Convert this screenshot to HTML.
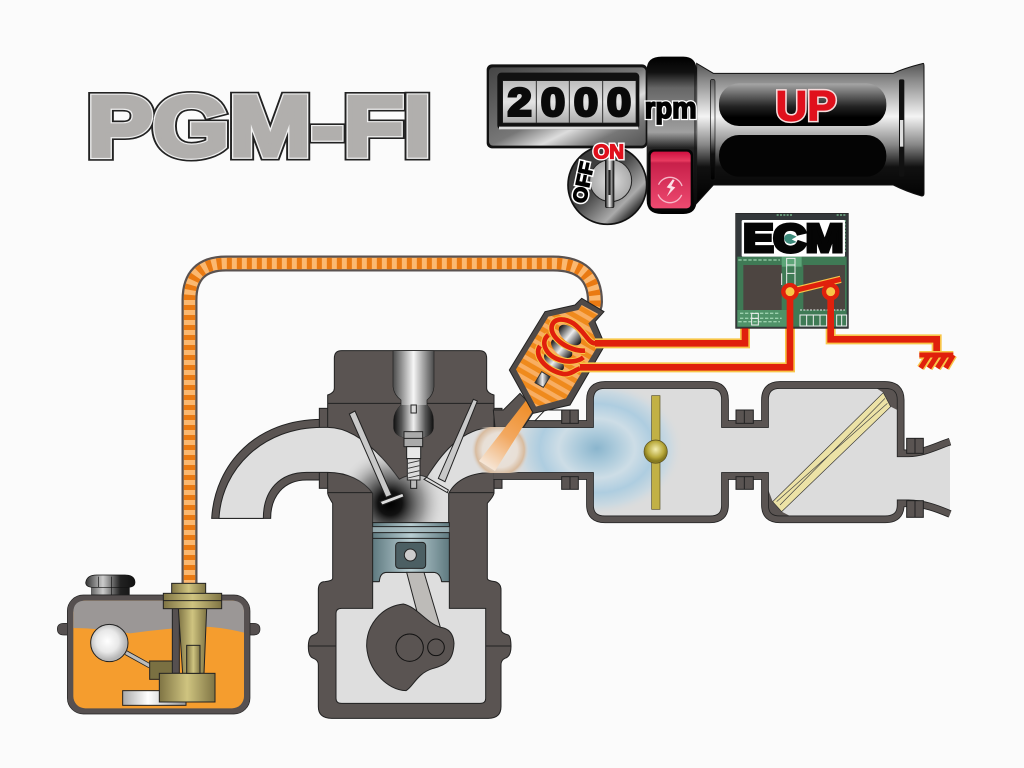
<!DOCTYPE html>
<html><head><meta charset="utf-8"><title>PGM-FI</title>
<style>html,body{margin:0;padding:0;background:#fbfbfb}svg{display:block}text{font-family:"Liberation Sans",sans-serif;font-weight:bold}</style></head>
<body>
<svg width="1024" height="768" viewBox="0 0 1024 768" xmlns="http://www.w3.org/2000/svg">
<defs>
<linearGradient id="grip" x1="0" y1="0" x2="0" y2="1"><stop offset="0" stop-color="#555"/><stop offset=".12" stop-color="#8a8a8a"/><stop offset=".38" stop-color="#f4f4f4"/><stop offset=".58" stop-color="#888"/><stop offset=".74" stop-color="#111"/><stop offset="1" stop-color="#000"/></linearGradient>
<linearGradient id="collar" x1="0" y1="0" x2="0" y2="1"><stop offset="0" stop-color="#000"/><stop offset=".1" stop-color="#111"/><stop offset=".2" stop-color="#666"/><stop offset=".48" stop-color="#a0a0a0"/><stop offset=".58" stop-color="#222"/><stop offset="1" stop-color="#000"/></linearGradient>
<linearGradient id="panel" x1="0" y1="0" x2="1" y2="1"><stop offset="0" stop-color="#444"/><stop offset=".5" stop-color="#777"/><stop offset=".66" stop-color="#ddd"/><stop offset=".82" stop-color="#777"/><stop offset="1" stop-color="#555"/></linearGradient>
<linearGradient id="btn" x1="0" y1="0" x2="0" y2="1"><stop offset="0" stop-color="#a8a8a8"/><stop offset=".55" stop-color="#222"/><stop offset=".8" stop-color="#000"/><stop offset="1" stop-color="#000"/></linearGradient>
<linearGradient id="digits" x1="0" y1="0" x2="0" y2="1"><stop offset="0" stop-color="#bbb"/><stop offset=".5" stop-color="#e4e4e4"/><stop offset="1" stop-color="#aaa"/></linearGradient>
<linearGradient id="red" x1="0" y1="0" x2="0" y2="1"><stop offset="0" stop-color="#d01040"/><stop offset=".16" stop-color="#e83a60"/><stop offset=".2" stop-color="#c8204a"/><stop offset="1" stop-color="#ee4a70"/></linearGradient>
<radialGradient id="key"><stop offset="0" stop-color="#ddd"/><stop offset="1" stop-color="#aaa"/></radialGradient>
<linearGradient id="keyring" x1="0" y1="0" x2="1" y2="1"><stop offset="0" stop-color="#333"/><stop offset=".45" stop-color="#444"/><stop offset=".72" stop-color="#aaa"/><stop offset=".88" stop-color="#111"/><stop offset="1" stop-color="#666"/></linearGradient>
<linearGradient id="keybar" x1="0" y1="0" x2="1" y2="0"><stop offset="0" stop-color="#111"/><stop offset=".5" stop-color="#eee"/><stop offset="1" stop-color="#111"/></linearGradient>
<linearGradient id="well" x1="0" y1="0" x2="1" y2="0"><stop offset="0" stop-color="#4a4a4a"/><stop offset=".5" stop-color="#f6f6f6"/><stop offset="1" stop-color="#4a4a4a"/></linearGradient>
<linearGradient id="well2" x1="0" y1="0" x2="1" y2="0"><stop offset="0" stop-color="#111"/><stop offset=".2" stop-color="#555"/><stop offset=".5" stop-color="#f0f0f0"/><stop offset=".8" stop-color="#555"/><stop offset="1" stop-color="#111"/></linearGradient>
<linearGradient id="pist" x1="0" y1="0" x2="1" y2="0"><stop offset="0" stop-color="#5f7a80"/><stop offset=".5" stop-color="#b8cdd2"/><stop offset="1" stop-color="#5f7a80"/></linearGradient>
<linearGradient id="gold" x1="0" y1="0" x2="1" y2="0"><stop offset="0" stop-color="#7f7444"/><stop offset=".5" stop-color="#cfc480"/><stop offset="1" stop-color="#7f7444"/></linearGradient>
<linearGradient id="plate" x1="0" y1="0" x2="1" y2="0"><stop offset="0" stop-color="#aaa"/><stop offset=".4" stop-color="#fff"/><stop offset="1" stop-color="#999"/></linearGradient>
<linearGradient id="knob" x1="0" y1="0" x2="1" y2="0"><stop offset="0" stop-color="#333"/><stop offset=".35" stop-color="#ccc"/><stop offset=".7" stop-color="#222"/><stop offset="1" stop-color="#111"/></linearGradient>
<radialGradient id="float" cx=".45" cy=".45"><stop offset="0" stop-color="#fff"/><stop offset=".6" stop-color="#e8e8e8"/><stop offset="1" stop-color="#b5b5b5"/></radialGradient>
<radialGradient id="ball" cx=".5" cy=".4"><stop offset="0" stop-color="#f4eeb0"/><stop offset=".7" stop-color="#b8a93c"/><stop offset="1" stop-color="#877a20"/></radialGradient>
<radialGradient id="soot" gradientUnits="userSpaceOnUse" cx="570" cy="490" r="165"><stop offset="0" stop-color="#000"/><stop offset=".22" stop-color="#111"/><stop offset=".6" stop-color="#666" stop-opacity=".6"/><stop offset="1" stop-color="#ddd" stop-opacity="0"/></radialGradient>
<radialGradient id="mist" gradientUnits="userSpaceOnUse" cx="0" cy="0" r="260" gradientTransform="translate(350,715) scale(1,.78)"><stop offset="0" stop-color="#8ab5cd"/><stop offset=".22" stop-color="#abcadb"/><stop offset=".44" stop-color="#cddde6"/><stop offset=".66" stop-color="#aecde0"/><stop offset=".85" stop-color="#cbd9e1"/><stop offset="1" stop-color="#dcdcdc" stop-opacity="0"/></radialGradient>
<radialGradient id="halo" gradientUnits="userSpaceOnUse" cx="500" cy="450" r="29"><stop offset="0" stop-color="#e8e4de"/><stop offset=".6" stop-color="#e8dfd6"/><stop offset=".84" stop-color="#d8bb9e"/><stop offset="1" stop-color="#dcdcdc" stop-opacity="0"/></radialGradient>
<linearGradient id="spray" gradientUnits="userSpaceOnUse" x1="532" y1="400" x2="487" y2="466"><stop offset="0" stop-color="#f08a20"/><stop offset=".55" stop-color="#f2a860"/><stop offset="1" stop-color="#f6e6d6"/></linearGradient>
<linearGradient id="core" x1="0" y1="0" x2="1" y2="0"><stop offset="0" stop-color="#111"/><stop offset=".5" stop-color="#eee"/><stop offset="1" stop-color="#111"/></linearGradient>
<pattern id="stripes" width="28" height="28" patternUnits="userSpaceOnUse" patternTransform="rotate(30)"><rect width="28" height="28" fill="#ef8a1c"/><rect width="28" height="13" fill="#f8ae62"/></pattern>
<clipPath id="greyClip"><path d="M57 535C65 385 190 262 365 262H383C450 262 520 310 598 418Q640 395 680 412C720 350 780 262 882 262H1040V397H882C820 397 770 415 746 460V548H518V460C490 420 440 397 383 397H320C240 397 190 450 190 535Z"/></clipPath>
<clipPath id="mistClip"><path d="M100 652H340V570Q340 535 375 535H690Q725 535 725 570V652V788V885Q725 918 690 918H375Q340 918 340 885V788H100Z"/></clipPath>
<clipPath id="haloClip"><rect x="465" y="427" width="70" height="46"/></clipPath>
</defs>
<rect width="1024" height="768" fill="#fbfbfb"/>

<!-- Title -->
<g transform="translate(70,70) scale(.33333)" stroke-linejoin="miter">
<text x="52" y="256" font-size="256" textLength="1031" lengthAdjust="spacingAndGlyphs" fill="#222" stroke="#222" stroke-width="30">PGM-FI</text>
<text x="52" y="256" font-size="256" textLength="1031" lengthAdjust="spacingAndGlyphs" fill="#eee" stroke="#f0f0f0" stroke-width="20">PGM-FI</text>
<text x="52" y="256" font-size="256" textLength="1031" lengthAdjust="spacingAndGlyphs" fill="#b1afad" stroke="#b1afad" stroke-width="13">PGM-FI</text>
</g>

<!-- Handle -->
<g transform="translate(480,50) scale(.33333)">
<path d="M1330 40Q1270 55 1240 70H700L650 40V460L700 405H1240Q1280 425 1325 438Q1332 438 1332 430V50Q1332 40 1330 40Z" fill="url(#grip)" stroke="#111" stroke-width="3"/>
<rect x="691" y="88" width="14" height="302" rx="6" fill="url(#grip)" stroke="#111" stroke-width="2"/>
<rect x="1257" y="88" width="16" height="292" rx="5" fill="#111"/>
<rect x="1260" y="210" width="10" height="80" fill="#ddd"/>
<rect x="717" y="100" width="502" height="128" rx="60" fill="url(#btn)"/>
<rect x="717" y="255" width="502" height="125" rx="60" fill="#040404"/>
<text x="978" y="211" font-size="128" text-anchor="middle" textLength="182" lengthAdjust="spacingAndGlyphs" fill="#f6dcdc" stroke="#f6dcdc" stroke-width="13">UP</text>
<text x="978" y="211" font-size="128" text-anchor="middle" textLength="182" lengthAdjust="spacingAndGlyphs" fill="#e0101c" stroke="#e0101c" stroke-width="4">UP</text>
<path d="M500 60Q500 20 545 20H610Q648 20 650 60V450Q650 492 610 492H545Q500 492 500 450Z" fill="url(#collar)"/>
<path d="M645 45V470" stroke="#111" stroke-width="3"/>
<rect x="20" y="43" width="482" height="252" rx="16" fill="#111"/>
<rect x="27" y="52" width="470" height="235" rx="12" fill="url(#panel)"/>
<rect x="52" y="68" width="426" height="170" rx="12" fill="#111"/>
<path d="M57 230H475V238H57Z" fill="#ddd"/>
<rect x="68" y="92" width="400" height="127" fill="url(#digits)" stroke="#222" stroke-width="2"/>
<path d="M169 92V219M268 92V219M368 92V219" stroke="#333" stroke-width="3"/>
<g font-size="118" fill="#0a0a0a" stroke="#0a0a0a" stroke-width="9">
<text x="83" y="196" textLength="72" lengthAdjust="spacingAndGlyphs">2</text><text x="183" y="196" textLength="72" lengthAdjust="spacingAndGlyphs">0</text><text x="282" y="196" textLength="72" lengthAdjust="spacingAndGlyphs">0</text><text x="381" y="196" textLength="72" lengthAdjust="spacingAndGlyphs">0</text></g>
<text x="494" y="204" font-size="88" textLength="156" lengthAdjust="spacingAndGlyphs" fill="#000" stroke="#fff" stroke-width="13">rpm</text>
<text x="494" y="204" font-size="88" textLength="156" lengthAdjust="spacingAndGlyphs" fill="#000" stroke="#000" stroke-width="5">rpm</text>
<circle cx="382" cy="405" r="118" fill="url(#keyring)" stroke="#111" stroke-width="5"/>
<circle cx="392" cy="392" r="63" fill="url(#key)" stroke="#222" stroke-width="3"/>
<rect x="376" y="325" width="26" height="148" rx="5" fill="url(#keybar)" stroke="#111" stroke-width="2"/>
<rect x="385" y="360" width="7" height="75" fill="#222"/>
<text x="386" y="326" font-size="60" text-anchor="middle" textLength="92" lengthAdjust="spacingAndGlyphs" fill="#fff" stroke="#fff" stroke-width="12">ON</text>
<text x="386" y="326" font-size="60" text-anchor="middle" textLength="92" lengthAdjust="spacingAndGlyphs" fill="#e0101c" stroke="#e0101c" stroke-width="4">ON</text>
<g transform="translate(316,462) rotate(-78)" font-size="58">
<text textLength="124" lengthAdjust="spacingAndGlyphs" fill="#fff" stroke="#fff" stroke-width="13">OFF</text>
<text textLength="124" lengthAdjust="spacingAndGlyphs" fill="#000" stroke="#000" stroke-width="4">OFF</text></g>
<rect x="505" y="298" width="134" height="186" rx="16" fill="#050505"/>
<rect x="512" y="305" width="120" height="170" rx="12" fill="url(#red)"/>
<circle cx="570" cy="420" r="38" fill="none" stroke="#f6b8c8" stroke-width="4" stroke-dasharray="90 30" stroke-dashoffset="-15"/>
<path d="M578 388L560 412L572 416L560 440L586 412L574 408L584 390Z" fill="#fbe0e6"/>
</g>

<!-- Fuel pipe -->
<g fill="none">
<path d="M189.500 590V300Q189.500 263.500 226 263.500H553Q595 263.500 595 302Q595 308 591 312" stroke="#5a5250" stroke-width="16"/>
<path d="M189.500 590V300Q189.500 263.500 226 263.500H553Q595 263.500 595 302Q595 308 591 312" stroke="#fbb870" stroke-width="11.500"/>
<path d="M189.500 590V300Q189.500 263.500 226 263.500H553Q595 263.500 595 302Q595 308 591 312" stroke="#ea7a12" stroke-width="11.500" stroke-dasharray="5 5"/>
</g>

<!-- Tank -->
<g transform="translate(40,560) scale(.33333)">
<path d="M137 68Q140 45 170 45H255Q285 45 285 68Q285 80 268 82V105H155V82Q137 80 137 68Z" fill="url(#knob)" stroke="#111" stroke-width="2"/>
<path d="M175 50V82M215 50V105M155 82H268" stroke="#111" stroke-width="2"/>
<path d="M52 207Q52 190 72 190H640Q660 190 660 207Q660 225 640 225H72Q52 225 52 207Z" fill="#565050" stroke="#222" stroke-width="2"/>
<rect x="82" y="105" width="548" height="357" rx="48" fill="#565050" stroke="#222" stroke-width="2"/>
<rect x="100" y="122" width="512" height="323" rx="36" fill="#f59d2e"/>
<path d="M100 200V158Q100 122 136 122H576Q612 122 612 158V218Q540 200 480 200Q380 205 270 220Q180 205 100 204Z" fill="#9b9796"/>
<path d="M258 278L330 318" stroke="#222" stroke-width="15"/><path d="M258 278L330 318" stroke="#bbb" stroke-width="10"/>
<circle cx="208" cy="249" r="56" fill="url(#float)" stroke="#222" stroke-width="3"/>
<rect x="248" y="392" width="190" height="44" fill="url(#plate)" stroke="#222" stroke-width="3"/>
<rect x="329" y="303" width="72" height="55" fill="#7a7042" stroke="#222" stroke-width="3"/>
<rect x="397" y="145" width="21" height="195" fill="#565050" stroke="#222" stroke-width="3"/>
<path d="M415 145H500L492 340H428Z" fill="url(#gold)" stroke="#222" stroke-width="3"/>
<rect x="358" y="340" width="167" height="86" fill="url(#gold)" stroke="#222" stroke-width="3"/>
<rect x="440" y="256" width="40" height="84" fill="url(#gold)" stroke="#222" stroke-width="3"/>
<rect x="395" y="70" width="102" height="32" fill="url(#gold)" stroke="#222" stroke-width="3"/>
<rect x="370" y="100" width="175" height="46" fill="url(#gold)" stroke="#222" stroke-width="3"/>
<path d="M370 122H545" stroke="#222" stroke-width="3"/>
</g>

<!-- Engine -->
<g transform="translate(200,340) scale(.33333)">
<path d="M35 535C45 370 170 238 365 238H383V420H320C250 420 212 470 212 535Z" fill="#5a5452" stroke="#222" stroke-width="3"/>
<rect x="358" y="205" width="30" height="240" fill="#5a5452" stroke="#222" stroke-width="3"/>
<rect x="878" y="205" width="28" height="240" fill="#5a5452" stroke="#222" stroke-width="3"/>
<path d="M425 32H838Q860 32 860 55V145Q860 158 882 165V460Q880 470 862 490V715Q862 722 885 725Q903 730 903 750V870Q905 880 925 885Q933 890 933 920Q933 950 915 955Q903 960 903 975V1100Q903 1135 865 1135H395Q355 1135 355 1100V975Q355 960 340 955Q325 950 325 920Q325 890 340 885Q355 880 355 870V750Q355 725 375 725Q398 722 398 715V490Q385 470 383 460V165Q403 158 403 145V55Q403 32 425 32Z" fill="#5a5452" stroke="#222" stroke-width="3"/>
<path d="M383 190H882M383 458H882M325 918H408M857 918H933" stroke="#222" stroke-width="3"/>
<path d="M57 535C65 385 190 262 365 262H383C450 262 520 310 598 418Q640 395 680 412C720 350 780 262 882 262H1040V397H882C820 397 770 415 746 460V548H518V460C490 420 440 397 383 397H320C240 397 190 450 190 535Z" fill="#dedede" stroke="#222" stroke-width="3"/>
<rect x="380" y="290" width="380" height="265" fill="url(#soot)" clip-path="url(#greyClip)"/>
<path d="M579 32H702V140Q700 165 681 180V195Q700 215 700 240V265Q695 295 640 295Q585 295 581 265V240Q582 215 603 195V180Q582 165 579 140Z" fill="url(#well)" stroke="#222" stroke-width="2"/>
<path d="M700 240V265Q695 295 640 295Q585 295 581 265V240Q582 215 603 195H681Q700 215 700 240Z" fill="url(#well2)"/>
<path d="M448 222L465 213L575 465L558 472Z" fill="#c9c9c9" stroke="#222" stroke-width="3"/>
<path d="M540 485L608 460L612 470L547 495Z" fill="#ddd" stroke="#222" stroke-width="3"/>
<path d="M820 178L832 183L735 425L715 415Z" fill="#c9c9c9" stroke="#222" stroke-width="3"/>
<path d="M672 418L680 412L745 450L742 458Z" fill="#ddd" stroke="#222" stroke-width="3"/>
<rect x="633" y="195" width="16" height="24" fill="#ddd" stroke="#222" stroke-width="3"/>
<rect x="612" y="275" width="56" height="45" fill="#aaa" stroke="#222" stroke-width="3"/>
<path d="M612 295H668" stroke="#222" stroke-width="3"/>
<rect x="620" y="320" width="42" height="36" fill="#e8e8e8" stroke="#222" stroke-width="3"/>
<rect x="622" y="356" width="38" height="64" fill="#dcdcdc" stroke="#222" stroke-width="3"/>
<path d="M624 370L658 362M624 385L658 377M624 400L658 392M624 414L658 406" stroke="#333" stroke-width="2.500"/>
<rect x="632" y="420" width="18" height="25" fill="#bbb" stroke="#222" stroke-width="3"/>
<path d="M536 725Q540 697 560 697H700Q722 697 726 725H748V805H857V1075Q857 1090 840 1090H425Q408 1090 408 1075V820Q408 805 425 805H518V725Z" fill="#dedede" stroke="#222" stroke-width="3"/>
<path d="M518 548H748V725H725Q720 697 700 697H560Q540 697 538 725H518Z" fill="url(#pist)" stroke="#222" stroke-width="3"/>
<rect x="518" y="561" width="230" height="16" fill="#a8bcc0" opacity=".7"/>
<path d="M518 560H748M518 578H748M518 595H748" stroke="#222" stroke-width="3"/>
<path d="M620 697L672 697L722 865L655 830Z" fill="#bdbbb8" stroke="#222" stroke-width="3"/>
<path d="M610 792C540 800 498 860 500 920C505 990 560 1050 618 1052C640 1040 650 1000 700 985C740 975 760 960 762 910C760 880 745 865 722 862C680 850 650 800 610 792Z" fill="#5a5452" stroke="#222" stroke-width="3"/>
<circle cx="629" cy="923" r="41" fill="#5a5452" stroke="#111" stroke-width="3"/>
<circle cx="708" cy="922" r="25" fill="#5a5452" stroke="#111" stroke-width="3"/>
<rect x="587" y="607" width="90" height="78" rx="10" fill="#4c5f63" stroke="#222" stroke-width="3"/>
<circle cx="631" cy="645" r="18" fill="#ccc" stroke="#222" stroke-width="3"/>
</g>

<!-- Intake -->
<g transform="translate(480,210) scale(.33333)">
<path d="M30 652H340V570Q340 535 375 535H690Q725 535 725 570V652H865V570Q865 535 900 535H1215Q1252 535 1252 570V738H1285C1330 735 1370 710 1410 690V920C1370 905 1330 882 1285 872H1252V885Q1252 918 1215 918H900Q865 918 865 885V788H725V885Q725 918 690 918H375Q340 918 340 885V788H30Z" fill="#dcdcdc"/>
<rect x="80" y="520" width="560" height="410" fill="url(#mist)" clip-path="url(#mistClip)"/>
<path d="M865 840L878 875L905 905L930 918H900Q865 918 865 885ZM1190 535H1215Q1252 535 1252 570V600L1232 590L1210 548Z" fill="#5a5452"/>
<path d="M130 642H330V570Q330 525 375 525H690Q735 525 735 570V642H855V570Q855 525 900 525H1215Q1262 525 1262 570V730H1285C1330 730 1370 708 1410 695M1410 912C1370 895 1330 880 1285 880H1262V885Q1262 928 1215 928H900Q855 928 855 885V798H735V885Q735 928 690 928H375Q330 928 330 885V798H40" fill="none" stroke="#222" stroke-width="23"/>
<path d="M130 642H330V570Q330 525 375 525H690Q735 525 735 570V642H855V570Q855 525 900 525H1215Q1262 525 1262 570V730H1285C1330 730 1370 708 1410 695M1410 912C1370 895 1330 880 1285 880H1262V885Q1262 928 1215 928H900Q855 928 855 885V798H735V885Q735 928 690 928H375Q330 928 330 885V798H40" fill="none" stroke="#5a5452" stroke-width="18"/>
<g fill="#5a5452" stroke="#222" stroke-width="3"><rect x="245" y="600" width="50" height="40"/><rect x="245" y="800" width="50" height="38"/><rect x="768" y="600" width="52" height="40"/><rect x="768" y="800" width="52" height="38"/><rect x="1280" y="685" width="50" height="45"/><rect x="1280" y="872" width="50" height="50"/></g>
<path d="M270 600V640M270 800V838M793 600V640M793 800V838M1305 685V730M1305 872V922" stroke="#222" stroke-width="3"/>
<rect x="515" y="557" width="25" height="341" fill="#c2b145" stroke="#5a5020" stroke-width="2"/>
<circle cx="527" cy="725" r="35" fill="url(#ball)" stroke="#5a5020" stroke-width="2"/>
<path d="M1210 548L1232 590L905 905L878 875Z" fill="#ece2a6" stroke="#333" stroke-width="2"/>
<path d="M1215 565L900 885M1222 580L890 875" stroke="#444" stroke-width="2"/>
<path d="M40 600H70L120 550L165 600L130 652H45Z" fill="#5a5452" stroke="#222" stroke-width="3"/>
<path d="M165 632L195 600H245V632Z" fill="#fbfbfb" stroke="#222" stroke-width="3"/>
</g>
<circle cx="500" cy="450" r="29" fill="url(#halo)" clip-path="url(#haloClip)"/>
<path d="M528 398L537 404L495 471L479 461Z" fill="url(#spray)"/>

<!-- Injector and wires -->
<g transform="translate(480,210) scale(.33333)">
<path d="M305 265L372 305L345 335L375 405L270 585L160 610L88 480L195 305L285 285Z" fill="#4f4a48" stroke="#222" stroke-width="3"/>
<path d="M305 285L355 312L325 340L355 405L258 565L168 590L108 478L205 320L295 300Z" fill="url(#stripes)"/>
<g fill="url(#core)">
<ellipse cx="270" cy="375" rx="40" ry="22" transform="rotate(40 270 375)"/>
<ellipse cx="245" cy="415" rx="38" ry="20" transform="rotate(40 245 415)"/>
<ellipse cx="222" cy="455" rx="36" ry="18" transform="rotate(40 222 455)"/>
</g>
<path d="M185 485L210 500L190 532L165 518Z" fill="url(#core)" stroke="#333" stroke-width="3"/>
<g fill="none" stroke="#f8c548" stroke-width="20"><path d="M345 400C325 400 315 365 280 340C250 322 220 325 215 350C210 385 270 425 315 422"/><path d="M205 375C180 395 195 435 240 450C265 458 295 455 310 442"/><path d="M180 408C160 435 195 480 250 492C270 495 285 480 300 475"/></g>
<g fill="none" stroke="#e0200c" stroke-width="14"><path d="M345 400C325 400 315 365 280 340C250 322 220 325 215 350C210 385 270 425 315 422"/><path d="M205 375C180 395 195 435 240 450C265 458 295 455 310 442"/><path d="M180 408C160 435 195 480 250 492C270 495 285 480 300 475"/></g>
<path d="M795 355V400H345M930 245V472H300M1052 245V388H1370V425" fill="none" stroke="#f8c548" stroke-width="30"/>
<!-- ECM -->
<rect x="767" y="10" width="338" height="345" fill="#33383a" stroke="#222" stroke-width="2"/>
<rect x="772" y="140" width="328" height="210" fill="#3f7a55"/>
<rect x="772" y="300" width="150" height="50" fill="#4f9268"/>
<rect x="905" y="140" width="60" height="30" fill="#5da578"/>
<path d="M775 150H900M780 310H900M775 335H900M780 325H905" stroke="#9bd0ad" stroke-width="4" stroke-dasharray="10 5"/>
<rect x="790" y="165" width="115" height="135" fill="#4d4541"/>
<rect x="970" y="165" width="125" height="135" fill="#4b4540"/>
<g fill="none" stroke="#eee" stroke-width="3"><path d="M920 145H945V225H920ZM920 165H945M920 190H945M905 190V225"/><path d="M960 315H1040V348H960ZM980 315V348M1000 315V348M1020 315V348M1070 315H1100V348H1070ZM1085 315V348"/><path d="M815 310H835V345H815ZM815 325H835"/><path d="M960 300H1095" stroke-dasharray="6 4"/></g>
<path d="M890 15H940M1070 15H1100M1095 30V130" stroke="#7fc898" stroke-width="4" stroke-dasharray="6 4"/>
<rect x="785" y="30" width="310" height="110" rx="4" fill="#fff"/>
<text x="790" y="125" font-size="116" textLength="300" lengthAdjust="spacingAndGlyphs" fill="#050505" stroke="#050505" stroke-width="12">ECM</text>
<path d="M912 85Q915 70 932 72L950 80L935 88L950 96L932 102Q915 100 912 85Z" fill="#3d8a7a"/>
<g fill="none">
<path d="M795 355V400H345M930 245V472H300M1052 245V388H1370V425" stroke="#e0200c" stroke-width="20"/>
<path d="M930 245L1082 208" stroke="#f8c548" stroke-width="22"/>
<path d="M930 245L1082 208" stroke="#e0200c" stroke-width="15"/>
<path d="M1318 435H1420M1347 435L1322 474M1372 435L1347 474M1397 435L1372 474M1420 435L1397 474" stroke="#f8c548" stroke-width="24"/>
<path d="M1318 435H1420M1347 435L1322 474M1372 435L1347 474M1397 435L1372 474M1420 435L1397 474" stroke="#e0200c" stroke-width="15"/>
</g>
<circle cx="930" cy="245" r="20" fill="#f8c548" stroke="#e0200c" stroke-width="13"/>
<circle cx="1052" cy="245" r="20" fill="#f8c548" stroke="#e0200c" stroke-width="13"/>
</g>
</svg>
</body></html>
